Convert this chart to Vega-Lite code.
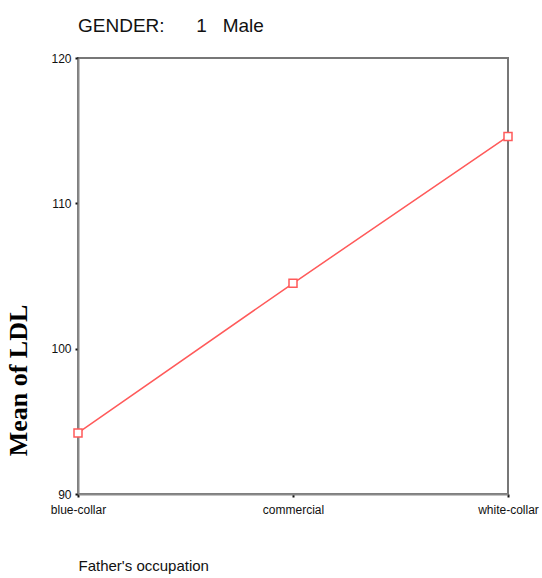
{
  "$schema": "https://vega.github.io/schema/vega-lite/v6.json",
  "width": 430,
  "height": 436,
  "autosize": "none",
  "padding": {"left": 78, "top": 58, "right": 34, "bottom": 84},
  "background": "white",
  "title": {
    "text": "GENDER:\u00a0\u00a0\u00a0\u00a0\u00a0\u00a01\u00a0\u00a0\u00a0Male",
    "anchor": "start",
    "frame": "group",
    "font": "Liberation Sans",
    "fontSize": 19,
    "fontWeight": "normal",
    "color": "#111",
    "dx": 0,
    "offset": 16
  },
  "config": {
    "view": {"stroke": "#777", "strokeWidth": 2},
    "axis": {
      "domainColor": "#888",
      "domainWidth": 2,
      "tickColor": "#111",
      "tickSize": 3,
      "tickWidth": 2,
      "grid": false,
      "labelFont": "Liberation Sans",
      "labelFontSize": 12,
      "labelColor": "#111",
      "titleFont": "Liberation Sans",
      "titleColor": "#111"
    }
  },
  "data": {
    "values": [
      {"occupation": "blue-collar", "ldl": 94.2},
      {"occupation": "commercial", "ldl": 104.5},
      {"occupation": "white-collar", "ldl": 114.6}
    ]
  },
  "encoding": {
    "x": {
      "field": "occupation",
      "type": "nominal",
      "sort": null,
      "scale": {"type": "point", "padding": 0},
      "axis": {
        "title": "Father's occupation",
        "labelAngle": 0,
        "labelPadding": 7,
        "titleFontSize": 15,
        "titleFontWeight": "normal",
        "titleAnchor": "start",
        "titleAlign": "left",
        "titleX": 0,
        "titleY": 71,
        "titleBaseline": "middle"
      }
    },
    "y": {
      "field": "ldl",
      "type": "quantitative",
      "scale": {"domain": [90, 120], "nice": false, "zero": false},
      "axis": {
        "title": "Mean of  LDL",
        "values": [90, 100, 110, 120],
        "labelPadding": 4,
        "titleFont": "Liberation Serif",
        "titleFontSize": 26,
        "titleFontWeight": "bold",
        "titleColor": "#000",
        "titleX": -60,
        "titleY": 322,
        "titleAngle": -90,
        "titleAlign": "center",
        "titleBaseline": "middle"
      }
    }
  },
  "layer": [
    {"mark": {"type": "line", "color": "#ff5a5a", "strokeWidth": 1.5}},
    {"mark": {"type": "point", "shape": "square", "filled": true, "fill": "white", "stroke": "#ff5a5a", "strokeWidth": 1.5, "size": 64, "opacity": 1}}
  ]
}
